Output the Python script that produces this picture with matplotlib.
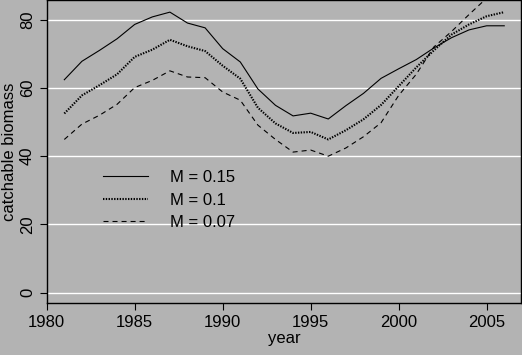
import numpy as np
import matplotlib
matplotlib.use("Agg")
import matplotlib.pyplot as plt

plt.rcParams['font.family'] = ['Liberation Sans', 'DejaVu Sans']
plt.rcParams['font.size'] = 12
plt.rcParams['lines.scale_dashes'] = False

# catchable biomass under three natural mortality assumptions
years = list(range(1981, 2007))
m015 = [62.4, 67.8, 71.0, 74.4, 78.6, 80.8, 82.2, 79.0, 77.6, 71.5, 67.6, 59.7, 54.9,
        51.8, 52.6, 50.9, 54.8, 58.4, 62.8, 65.6, 68.3, 71.7, 74.7, 77.0, 78.2, 78.2]
m010 = [52.5, 57.8, 60.8, 64.0, 69.1, 71.2, 74.1, 72.2, 70.8, 66.5, 62.7, 54.2, 49.6,
        46.8, 47.1, 44.9, 47.6, 50.8, 55.0, 60.5, 66.0, 71.0, 75.6, 78.6, 81.0, 82.2]
m007 = [44.9, 49.4, 52.0, 55.2, 60.1, 62.2, 65.0, 63.2, 63.0, 58.8, 56.4, 49.1, 44.9,
        41.2, 41.8, 40.0, 42.4, 45.7, 49.8, 57.8, 64.0, 72.0, 76.5, 81.5, 86.3, 88.0]
labels = ["M = 0.15", "M = 0.1", "M = 0.07"]

bg = "#b3b3b3"
fig = plt.figure(figsize=(5.22, 3.55), dpi=100, facecolor=bg)
ax = fig.add_axes([0.0895, 0.1456, 0.9085, 0.8534])
ax.set_facecolor(bg)

for y in [0, 20, 40, 60, 80]:
    ax.axhline(y, color="white", linewidth=1.0, zorder=1)

ax.plot(years, m015, color="k", linewidth=0.8, label=labels[0], zorder=3)
ax.plot(years, m010, color="k", linewidth=1.5, linestyle=(0, (1.0, 1.0)),
        label=labels[1], zorder=3)
ax.plot(years, m007, color="k", linewidth=0.8, linestyle=(0, (3.6, 2.9)),
        label=labels[2], zorder=3)

ax.set_xlim(1980, 2006.95)
ax.set_ylim(-3.1, 85.65)
ax.set_xticks([1980, 1985, 1990, 1995, 2000, 2005])
ax.set_yticks([0, 20, 40, 60, 80])

for s in ax.spines.values():
    s.set_color("k")
    s.set_linewidth(1.0)

ax.tick_params(axis="both", direction="out", length=5, width=0.8, color="k")
ax.tick_params(axis="x", pad=3.5)
ax.tick_params(axis="y", pad=3.5)
for t in ax.get_yticklabels():
    t.set_rotation(90)
    t.set_verticalalignment("center")

ax.set_xlabel("year", labelpad=0.5)
ax.set_ylabel("catchable biomass", labelpad=2)

ax.legend(loc="upper left", bbox_to_anchor=(0.197, 0.521), bbox_transform=fig.transFigure,
          frameon=False, borderpad=0, borderaxespad=0, handlelength=2.7,
          handletextpad=1.34, labelspacing=0.45)

fig.savefig("out.png", dpi=100, facecolor=bg)
